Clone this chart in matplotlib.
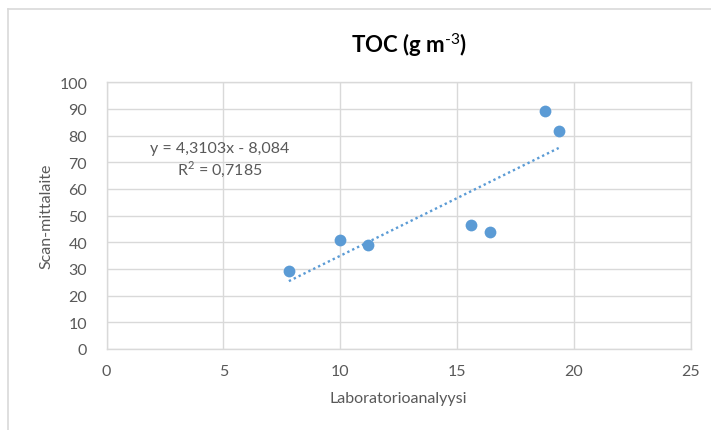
import numpy as np
import matplotlib
matplotlib.use("Agg")
import matplotlib.pyplot as plt
from matplotlib.lines import Line2D

# Data
lab = [7.8, 10.0, 11.2, 15.6, 16.4, 18.75, 19.35]
scan = [29.4, 40.9, 39.1, 46.6, 43.7, 89.1, 81.6]
x_ticks = [0, 5, 10, 15, 20, 25]
y_ticks = list(range(0, 101, 10))
eq_text = "y = 4,3103x - 8,084\nR$^2$ = 0,7185"

blue = "#5B9BD5"
grey_text = "#595959"
grid_col = "#D9D9D9"

plt.rcParams["font.family"] = ["Lato", "DejaVu Sans"]
plt.rcParams["mathtext.fontset"] = "custom"
plt.rcParams["mathtext.rm"] = "Lato"
plt.rcParams["mathtext.bf"] = "Lato:bold"

fig = plt.figure(figsize=(7.11, 4.31), dpi=100)
ax = fig.add_axes([0.150, 0.188, 0.8214, 0.6188])

ax.scatter(lab, scan, s=72, color=blue, zorder=3, linewidths=0)

# linear trendline
k, b = np.polyfit(lab, scan, 1)
xs = np.array([min(lab), max(lab)])
ax.plot(xs, k * xs + b, color=blue, lw=1.7, linestyle=(0, (1, 1.3)), zorder=2)

ax.text(4.85, 71, eq_text, ha="center", va="center", color=grey_text,
        fontsize=11.5, linespacing=1.2)

ax.set_xlim(0, 25)
ax.set_ylim(0, 100)
ax.set_xticks(x_ticks)
ax.set_yticks(y_ticks)
ax.tick_params(length=0, labelsize=11.5, labelcolor=grey_text)
ax.tick_params(axis="x", pad=11)
ax.tick_params(axis="y", pad=14)
ax.grid(True, color=grid_col, lw=1)
ax.set_axisbelow(True)
for s in ax.spines.values():
    s.set_color(grid_col)
    s.set_linewidth(1)

ax.set_xlabel("Laboratorioanalyysi", fontsize=11.5, color=grey_text, labelpad=9)
ax.set_ylabel("Scan-mittalaite", fontsize=11.5, color=grey_text, labelpad=4)

fig.text(0.575, 0.896, "TOC (g m$^{\\text{-3}}$)", ha="center", va="center",
         fontsize=16, fontweight="bold", color="black")

# chart area border (left and top visible)
fig.add_artist(Line2D([8 / 711, 8 / 711], [0, 1 - 10 / 431], color=grid_col, lw=1.2))
fig.add_artist(Line2D([8 / 711, 1], [1 - 10 / 431, 1 - 10 / 431], color=grid_col, lw=1.2))

fig.savefig("out.png", dpi=100)
